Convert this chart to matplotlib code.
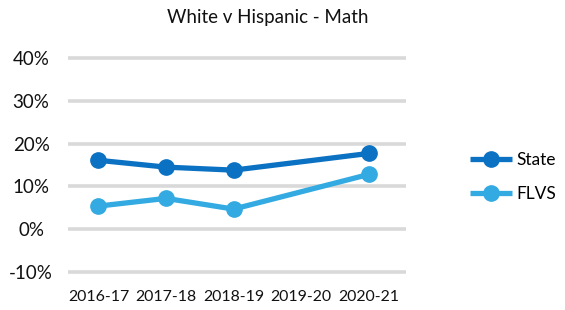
import numpy as np
from matplotlib import pyplot as plt

plt.rcParams['font.family'] = ['Lato', 'DejaVu Sans']

years = ['2016-17', '2017-18', '2018-19', '2019-20', '2020-21']
state = [16.1, 14.5, 13.8, np.nan, 17.7]
flvs = [5.4, 7.2, 4.7, np.nan, 12.8]
y_ticks = [-10, 0, 10, 20, 30, 40]

fig = plt.figure(figsize=(5.65, 3.1), dpi=100)
ax = fig.add_axes([68 / 565, 1 - 276.3 / 310, 338 / 565, 222.6 / 310])

x = np.arange(len(years))
for vals, color, name in [(state, '#0b71c2', 'State'), (flvs, '#33aae1', 'FLVS')]:
    v = np.array(vals)
    ok = ~np.isnan(v)
    ax.plot(x[ok], v[ok], color=color, lw=3.8, marker='o', ms=11,
            solid_capstyle='butt', label=name, zorder=3)

ax.set_xlim(-0.45, 4.55)
ax.set_ylim(-11, 41)
ax.set_yticks(y_ticks)
ax.set_yticklabels([f'{t}%' for t in y_ticks])
ax.set_xticks(x)
ax.set_xticklabels(years)
for lab in ax.get_yticklabels():
    lab.set_ha('center')
ax.tick_params(axis='y', length=0, pad=26.6, labelsize=13.5, colors='#111111')
ax.tick_params(axis='x', length=0, pad=10, labelsize=11.4, colors='#111111')
ax.grid(axis='y', color='#d9d9d9', lw=2.6)
ax.set_axisbelow(True)
for s in ax.spines.values():
    s.set_visible(False)

fig.text(268 / 565, 1 - 17 / 310, 'White v Hispanic - Math', ha='center', va='center',
         fontsize=13.5, color='#111111')

fig.legend(loc='center left', bbox_to_anchor=(470 / 565, 1 - 177 / 310), frameon=False,
           fontsize=12.5, handlelength=2.4, handletextpad=0.3, labelspacing=1.05,
           borderpad=0, borderaxespad=0)

plt.savefig('out.png')
